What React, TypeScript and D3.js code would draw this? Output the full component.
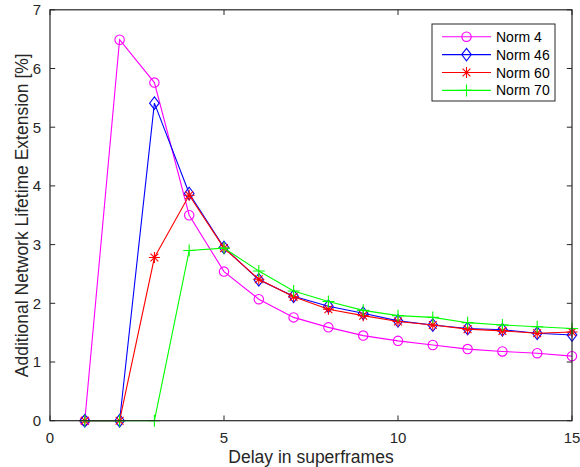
import React from "react";
import * as d3 from "d3";

const delays = [1, 2, 3, 4, 5, 6, 7, 8, 9, 10, 11, 12, 13, 14, 15];
const norm4 = [0, 6.49, 5.76, 3.5, 2.54, 2.07, 1.76, 1.59, 1.45, 1.36, 1.29, 1.22, 1.18, 1.15, 1.1];
const norm46 = [0, 0, 5.41, 3.87, 2.95, 2.4, 2.12, 1.95, 1.83, 1.7, 1.63, 1.57, 1.55, 1.49, 1.46];
const norm60 = [0, 0, 2.78, 3.84, 2.94, 2.41, 2.11, 1.9, 1.79, 1.69, 1.63, 1.56, 1.53, 1.49, 1.51];
const norm70 = [0, 0, 0, 2.9, 2.94, 2.55, 2.21, 2.03, 1.88, 1.79, 1.76, 1.67, 1.63, 1.6, 1.57];

const seriesNames = ["Norm 4", "Norm 46", "Norm 60", "Norm 70"];
const seriesColors = ["#ff00ff", "#0000ff", "#ff0000", "#00ff00"];
const seriesMarkers = ["circle", "diamond", "star", "plus"];
const seriesValues = [norm4, norm46, norm60, norm70];

const xTicks = [0, 5, 10, 15];
const yTicks = [0, 1, 2, 3, 4, 5, 6, 7];

const W = 580;
const H = 467;
const M = { left: 50, right: 8, top: 9.8, bottom: 46.3 };
const AXIS = "#262626";
const FONT = "'Liberation Sans', Arial, Helvetica, sans-serif";

function markerPath(kind: string, cx: number, cy: number): string {
  if (kind === "circle") {
    const r = 4.7;
    return `M${cx + r},${cy}A${r},${r} 0 1,1 ${cx - r},${cy}A${r},${r} 0 1,1 ${cx + r},${cy}Z`;
  }
  if (kind === "diamond") {
    const h = 6.3, w = 4.8;
    return `M${cx},${cy - h}L${cx + w},${cy}L${cx},${cy + h}L${cx - w},${cy}Z`;
  }
  if (kind === "star") {
    const s = 5.5, d = 3.9;
    return `M${cx - s},${cy}L${cx + s},${cy}M${cx},${cy - s}L${cx},${cy + s}` +
      `M${cx - d},${cy - d}L${cx + d},${cy + d}M${cx - d},${cy + d}L${cx + d},${cy - d}`;
  }
  const p = 6;
  return `M${cx - p},${cy}L${cx + p},${cy}M${cx},${cy - p}L${cx},${cy + p}`;
}

export default function App() {
  const x = d3.scaleLinear().domain([0, 15]).range([M.left, W - M.right]);
  const y = d3.scaleLinear().domain([0, 7]).range([H - M.bottom, M.top]);
  const line = d3
    .line<number>()
    .x((_, i) => x(delays[i]))
    .y((v) => y(v));

  const x0 = x(0), x1 = x(15), y0 = y(0), y1 = y(7);
  const tickLen = 5.2;

  const legend = { x: 432, y: 24, w: 123, h: 77, row0: 36.7, step: 17.9 };

  return (
    <svg
      width={W}
      height={H}
      style={{ position: "absolute", left: 0, top: 0, display: "block", background: "#fff" }}
      fontFamily={FONT}
    >
      <rect x={0} y={0} width={W} height={H} fill="#fff" />

      {/* series */}
      {seriesValues.map((vals, si) => (
        <g key={seriesNames[si]}>
          <path d={line(vals) || ""} fill="none" stroke={seriesColors[si]} strokeWidth={1.1} />
          {vals.map((v, i) => (
            <path
              key={i}
              d={markerPath(seriesMarkers[si], x(delays[i]), y(v))}
              fill="none"
              stroke={seriesColors[si]}
              strokeWidth={1.1}
            />
          ))}
        </g>
      ))}

      {/* axes box */}
      <rect x={x0} y={y1} width={x1 - x0} height={y0 - y1} fill="none" stroke={AXIS} strokeWidth={1.2} />
      {xTicks.map((t) => (
        <g key={`xt${t}`}>
          <line x1={x(t)} x2={x(t)} y1={y0} y2={y0 - tickLen} stroke={AXIS} strokeWidth={1} />
          <line x1={x(t)} x2={x(t)} y1={y1} y2={y1 + tickLen} stroke={AXIS} strokeWidth={1} />
          <text x={x(t)} y={443} textAnchor="middle" fontSize={15} fill={AXIS}>
            {t}
          </text>
        </g>
      ))}
      {yTicks.map((t) => (
        <g key={`yt${t}`}>
          <line x1={x0} x2={x0 + tickLen} y1={y(t)} y2={y(t)} stroke={AXIS} strokeWidth={1} />
          <line x1={x1} x2={x1 - tickLen} y1={y(t)} y2={y(t)} stroke={AXIS} strokeWidth={1} />
          <text x={41} y={y(t)} dy="0.36em" textAnchor="end" fontSize={15} fill={AXIS}>
            {t}
          </text>
        </g>
      ))}

      {/* axis labels */}
      <text x={(x0 + x1) / 2} y={463} textAnchor="middle" fontSize={17.5} fill={AXIS}>
        Delay in superframes
      </text>
      <text
        transform={`translate(28,${(y0 + y1) / 2}) rotate(-90)`}
        textAnchor="middle"
        fontSize={17.5}
        fill={AXIS}
      >
        Additional Network Lifetime Extension [%]
      </text>

      {/* legend */}
      <rect x={legend.x} y={legend.y} width={legend.w} height={legend.h} fill="#fff" stroke={AXIS} strokeWidth={1} />
      {seriesNames.map((name, si) => {
        const ly = legend.row0 + si * legend.step;
        return (
          <g key={`lg${name}`}>
            <line x1={442} x2={491} y1={ly} y2={ly} stroke={seriesColors[si]} strokeWidth={1.1} />
            <path d={markerPath(seriesMarkers[si], 466.5, ly)} fill="none" stroke={seriesColors[si]} strokeWidth={1.1} />
            <text x={496} y={ly} dy="0.36em" fontSize={14} fill="#000">
              {name}
            </text>
          </g>
        );
      })}
    </svg>
  );
}
